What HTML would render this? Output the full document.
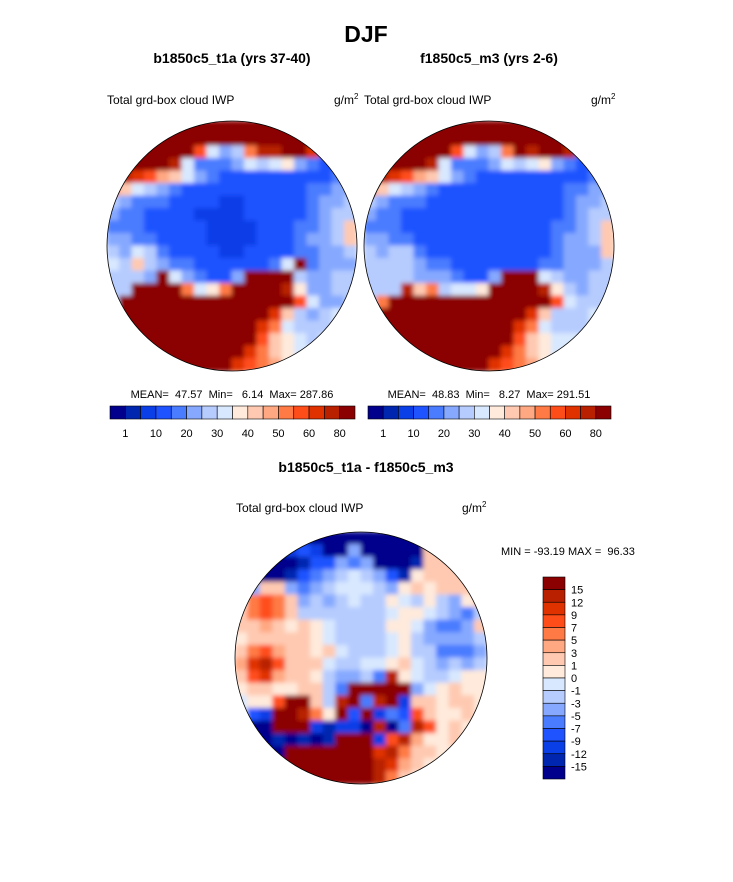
<!DOCTYPE html>
<html><head><meta charset="utf-8">
<style>
body{margin:0;background:#fff;}
svg{display:block;font-family:"Liberation Sans",Arial,sans-serif;}
.pre{white-space:pre;}
</style></head>
<body>
<svg id="fig" width="733" height="882" viewBox="0 0 733 882">
<defs>
<clipPath id="c1"><circle cx="232" cy="246" r="125"/></clipPath>
<clipPath id="c2"><circle cx="489" cy="246" r="125"/></clipPath>
<clipPath id="c3"><circle cx="361" cy="658" r="126"/></clipPath>
<filter id="bl" filterUnits="userSpaceOnUse" x="0" y="0" width="733" height="882"><feGaussianBlur stdDeviation="2.5"/></filter>
</defs>
<text x="366" y="42" text-anchor="middle" font-size="23" font-weight="bold">DJF</text>
<text x="232" y="63" text-anchor="middle" font-size="14" font-weight="bold">b1850c5_t1a (yrs 37-40)</text>
<text x="489" y="63" text-anchor="middle" font-size="14" font-weight="bold">f1850c5_m3 (yrs 2-6)</text>
<text x="107" y="104" font-size="12">Total grd-box cloud IWP</text>
<text x="334" y="104" font-size="12">g/m<tspan font-size="8" dy="-5">2</tspan></text>
<text x="364" y="104" font-size="12">Total grd-box cloud IWP</text>
<text x="591" y="104" font-size="12">g/m<tspan font-size="8" dy="-5">2</tspan></text>
<g id="m1" clip-path="url(#c1)"></g>
<g id="m2" clip-path="url(#c2)"></g>
<g id="m3" clip-path="url(#c3)"></g>
<circle cx="232" cy="246" r="125" fill="none" stroke="#000" stroke-width="0.8"/>
<circle cx="489" cy="246" r="125" fill="none" stroke="#000" stroke-width="0.8"/>
<circle cx="361" cy="658" r="126" fill="none" stroke="#000" stroke-width="0.8"/>
<text class="pre" x="232" y="398" text-anchor="middle" font-size="11">MEAN=  47.57  Min=   6.14  Max= 287.86</text>
<text class="pre" x="489" y="398" text-anchor="middle" font-size="11">MEAN=  48.83  Min=   8.27  Max= 291.51</text>
<g id="cb1"></g>
<g id="cb2"></g>
<text x="366" y="472" text-anchor="middle" font-size="14" font-weight="bold">b1850c5_t1a - f1850c5_m3</text>
<text x="236" y="512" font-size="12">Total grd-box cloud IWP</text>
<text x="462" y="512" font-size="12">g/m<tspan font-size="8" dy="-5">2</tspan></text>
<text class="pre" x="501" y="555" font-size="11">MIN = -93.19 MAX =  96.33</text>
<g id="cb3"></g>
</svg>
<script>
const palette=["#00008c","#0026b0","#0a3ee6","#1f53ff","#4a7cff","#86a9ff","#b6ccff","#d8e8ff","#ffeadb","#ffc9b1","#ffa882","#ff7a45","#ff4d1a","#e03200","#b82000","#8b0000"];
const labels1=["1","10","20","30","40","50","60","80"];
const labelsDiff=["15","12","9","7","5","3","1","0","-1","-3","-5","-7","-9","-12","-15"];
const map1=[
"ffffffffffffffffffff",
"ffffffffffffffffffff",
"fffffffc756beeffd444",
"fffffe74445767854334",
"fedca975433333333343",
"b9765433333333334455",
"65444333322333334556",
"54433332222333334566",
"44433333222233344569",
"55443333222233345569",
"65764333322333344556",
"769654433333347f4555",
"6665f754335ffff65566",
"66ffffb78bffffe85566",
"6ffffffffffffffc7556",
"fffffffffffffd965677",
"ffffffffffffdb766677",
"ffffffffffffc9876777",
"fffffffffffdb9877777",
"ffffffffffdcba877777"];
const map2=[
"ffffffffffffffffffff",
"ffffffffffffffffffff",
"fffffffc756bfeffe444",
"fffffe74445767854334",
"fedca975433333333344",
"b9765433333333334455",
"65444333333333334556",
"54433333333333334566",
"44433333333333344569",
"55443333333333345569",
"65664333333333345559",
"66665443333333445556",
"66665554335fff765566",
"666e9b6778ffffe86566",
"6bfffffffffffffc7666",
"fffffffffffffd966677",
"ffffffffffffdb766677",
"ffffffffffffc9877777",
"fffffffffffdb9877777",
"ffffffffffdcba877777"];
const map3=[
"00000000000000099999",
"00002320050000099999",
"00000133545000199999",
"01001345676531899999",
"35995456777658989998",
"8bcb9565676687686589",
"9bcb9666666678876546",
"99a98987666688754459",
"89999987666678655556",
"9bca9989766678664445",
"adec9997667789765656",
"9cda99865564e8766788",
"899889964fffff578988",
"788cff96ef4ef2998998",
"732ffeb8f3f243c98898",
"100fff21220e04ec8988",
"00010101fff2cea88988",
"0000fffffffdeb998888",
"000ffffffffeda988888",
"000ffffffffeb9888888"];

const NS='http://www.w3.org/2000/svg';
function drawMap(id,grid,x0,y0,size){
  const g=document.getElementById(id);
  const inner=document.createElementNS(NS,'g');
  inner.setAttribute('filter','url(#bl)');
  
  
  const n=grid.length, cs=size/n;
  g.appendChild(inner);
  for(let r=0;r<n;r++){for(let c=0;c<grid[r].length;c++){
    const v=parseInt(grid[r][c],16);
    const rect=document.createElementNS(NS,'rect');
    rect.setAttribute('x',x0+c*cs-0.5);rect.setAttribute('y',y0+r*cs-0.5);
    rect.setAttribute('width',cs+1);rect.setAttribute('height',cs+1);
    rect.setAttribute('fill',palette[v]);
    
    
    inner.appendChild(rect);
  }}
}
drawMap('m1',map1,107,121,250);
drawMap('m2',map2,364,121,250);
drawMap('m3',map3,235,532,252);

function hbar(id,x0,y0,w,h){
  const g=document.getElementById(id);const bw=w/palette.length;
  palette.forEach((col,i)=>{
    const r=document.createElementNS(NS,'rect');
    r.setAttribute('x',x0+i*bw);r.setAttribute('y',y0);r.setAttribute('width',bw);r.setAttribute('height',h);
    r.setAttribute('fill',col);r.setAttribute('stroke','#000');r.setAttribute('stroke-width','0.6');
    
    
    g.appendChild(r);
  });
  labels1.forEach((lb,i)=>{
    const t=document.createElementNS(NS,'text');
    t.setAttribute('x',x0+(2*i+1)*bw);t.setAttribute('y',y0+h+18);
    t.setAttribute('text-anchor','middle');t.setAttribute('font-size','11');
    t.textContent=lb;
    
    
    g.appendChild(t);
  });
}
hbar('cb1',110,406,245,13);
hbar('cb2',368,406,243,13);
(function(){
  const g=document.getElementById('cb3');const x0=543,y0=577,w=22,h=202;const bh=h/palette.length;
  for(let i=0;i<palette.length;i++){
    const r=document.createElementNS(NS,'rect');
    r.setAttribute('x',x0);r.setAttribute('y',y0+i*bh);r.setAttribute('width',w);r.setAttribute('height',bh);
    r.setAttribute('fill',palette[palette.length-1-i]);r.setAttribute('stroke','#000');r.setAttribute('stroke-width','0.6');
    
    
    g.appendChild(r);
  }
  labelsDiff.forEach((lb,i)=>{
    const t=document.createElementNS(NS,'text');
    t.setAttribute('x',x0+w+6);t.setAttribute('y',y0+(i+1)*bh+4);
    t.setAttribute('font-size','11');t.textContent=lb;
    
    
    g.appendChild(t);
  });
})();
</script>
</body></html>
